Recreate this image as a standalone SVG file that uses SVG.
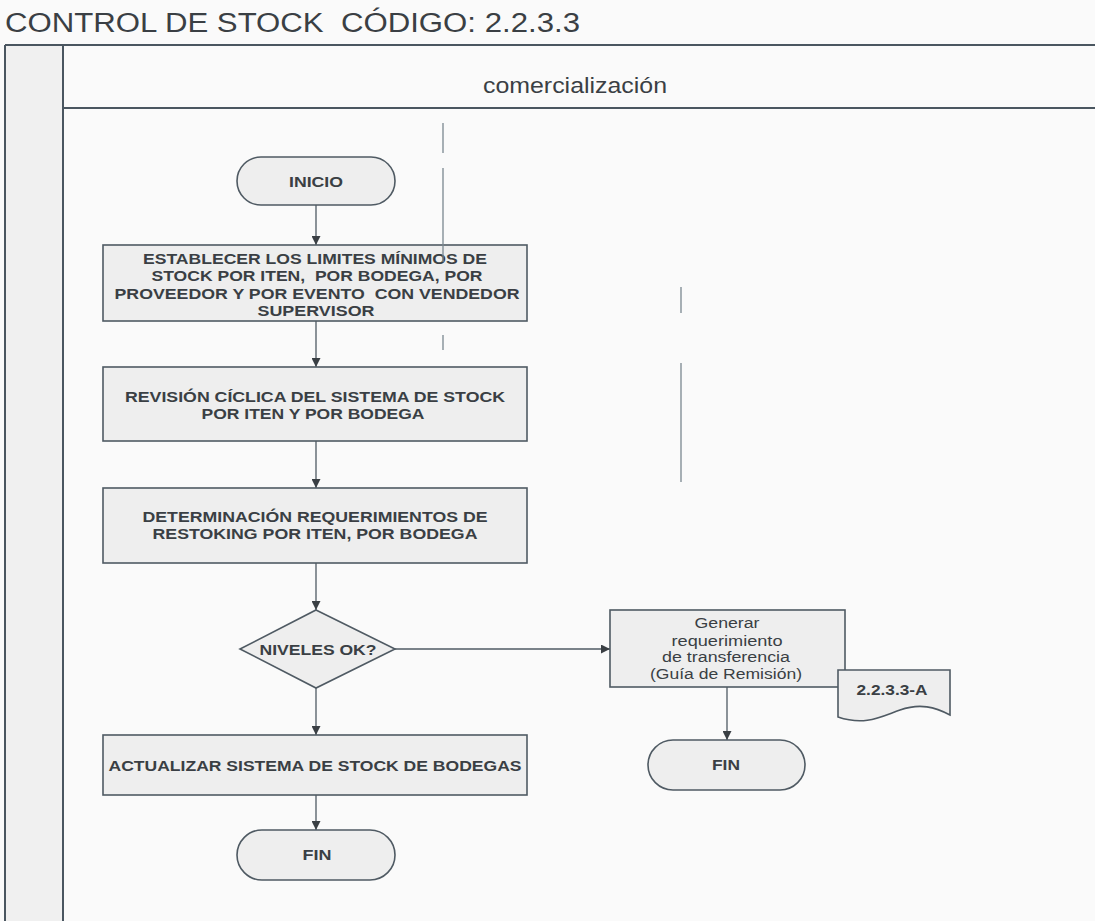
<svg xmlns="http://www.w3.org/2000/svg" width="1095" height="921" viewBox="0 0 1095 921">
<defs>
<style>
.frame{stroke:#4a5660;stroke-width:2;fill:none}
.node{fill:#eeeeee;stroke:#4f5a63;stroke-width:1.6}
.t{font-family:"Liberation Sans",Arial,sans-serif;fill:#3a3f44;text-anchor:middle}
.b{font-weight:bold;font-size:15px}
.r{font-size:14px}
.conn{stroke:#4f5a63;stroke-width:1.3;fill:none;marker-end:url(#ah)}
.faint{stroke:#7a8790;stroke-width:1.3;fill:none}
</style>
<marker id="ah" viewBox="0 0 10 10" refX="10" refY="5" markerWidth="9" markerHeight="9" markerUnits="userSpaceOnUse" orient="auto">
<path d="M0,0 L10,5 L0,10 z" fill="#3a3f44"/>
</marker>
</defs>
<rect width="1095" height="921" fill="#fafafa"/>
<rect x="5" y="45" width="58" height="876" fill="#f0f0f0"/>
<g id="frame">
<text x="5" y="32" font-family="Liberation Sans,Arial,sans-serif" font-size="27" fill="#3a3f44" textLength="575" lengthAdjust="spacingAndGlyphs" xml:space="preserve">CONTROL DE STOCK  CÓDIGO: 2.2.3.3</text>
<line class="frame" x1="5" y1="45" x2="1095" y2="45"/>
<line class="frame" x1="63" y1="108" x2="1095" y2="108"/>
<line class="frame" x1="5" y1="45" x2="5" y2="921"/>
<line class="frame" x1="63" y1="45" x2="63" y2="921"/>
<text x="575" y="93" font-family="Liberation Sans,Arial,sans-serif" font-size="22" fill="#3a3f44" text-anchor="middle" textLength="184" lengthAdjust="spacingAndGlyphs">comercialización</text>
<line class="faint" x1="443" y1="123" x2="443" y2="153"/>
<line class="faint" x1="681" y1="287" x2="681" y2="313"/>
<line class="faint" x1="681" y1="363" x2="681" y2="482"/>
<line class="faint" x1="443" y1="335" x2="443" y2="350"/>
</g>
<g id="connectors">
<line class="conn" x1="316" y1="205" x2="316" y2="245"/>
<line class="conn" x1="316" y1="321" x2="316" y2="367"/>
<line class="conn" x1="316" y1="441" x2="316" y2="488"/>
<line class="conn" x1="316" y1="563" x2="316" y2="610"/>
<line class="conn" x1="316" y1="688" x2="316" y2="735"/>
<line class="conn" x1="316" y1="795" x2="316" y2="830"/>
<line class="conn" x1="395" y1="649" x2="610" y2="649"/>
<line class="conn" x1="727" y1="687" x2="727" y2="740"/>
</g>
<g id="inicio">
<rect class="node" x="237" y="157" width="158" height="48" rx="24"/>
<text class="t b" x="316" y="187" textLength="54" lengthAdjust="spacingAndGlyphs">INICIO</text>
</g>
<g id="establecer">
<rect class="node" x="103" y="245" width="424" height="76"/>
<text class="t b" x="315" y="264" textLength="344" lengthAdjust="spacingAndGlyphs">ESTABLECER LOS LIMITES MÍNIMOS DE</text>
<text class="t b" x="317" y="281" textLength="331" lengthAdjust="spacingAndGlyphs" xml:space="preserve">STOCK POR ITEN,  POR BODEGA, POR</text>
<text class="t b" x="317" y="299" textLength="405" lengthAdjust="spacingAndGlyphs" xml:space="preserve">PROVEEDOR Y POR EVENTO  CON VENDEDOR</text>
<text class="t b" x="316" y="316" textLength="117" lengthAdjust="spacingAndGlyphs">SUPERVISOR</text>
</g>
<line class="faint" x1="443" y1="168" x2="443" y2="262"/>
<g id="revision">
<rect class="node" x="103" y="367" width="424" height="74"/>
<text class="t b" x="315" y="402" textLength="380" lengthAdjust="spacingAndGlyphs">REVISIÓN CÍCLICA DEL SISTEMA DE STOCK</text>
<text class="t b" x="313" y="419" textLength="223" lengthAdjust="spacingAndGlyphs">POR ITEN Y POR BODEGA</text>
</g>
<g id="determinacion">
<rect class="node" x="103" y="488" width="424" height="75"/>
<text class="t b" x="315" y="522" textLength="345" lengthAdjust="spacingAndGlyphs">DETERMINACIÓN REQUERIMIENTOS DE</text>
<text class="t b" x="315" y="539" textLength="325" lengthAdjust="spacingAndGlyphs">RESTOKING POR ITEN, POR BODEGA</text>
</g>
<g id="niveles">
<polygon class="node" points="316,610 395,649 316,688 240,649"/>
<text class="t b" x="318" y="655" textLength="117" lengthAdjust="spacingAndGlyphs">NIVELES OK?</text>
</g>
<g id="actualizar">
<rect class="node" x="103" y="735" width="424" height="60"/>
<text class="t b" x="315" y="771" textLength="413" lengthAdjust="spacingAndGlyphs">ACTUALIZAR SISTEMA DE STOCK DE BODEGAS</text>
</g>
<g id="fin1">
<rect class="node" x="237" y="830" width="158" height="50" rx="25"/>
<text class="t b" x="317" y="860" textLength="29" lengthAdjust="spacingAndGlyphs">FIN</text>
</g>
<g id="generar">
<rect class="node" x="610" y="610" width="235" height="77"/>
<text class="t r" x="727" y="628" textLength="65" lengthAdjust="spacingAndGlyphs">Generar</text>
<text class="t r" x="727" y="646" textLength="111" lengthAdjust="spacingAndGlyphs">requerimiento</text>
<text class="t r" x="726" y="662" textLength="128" lengthAdjust="spacingAndGlyphs">de transferencia</text>
<text class="t r" x="726" y="679" textLength="152" lengthAdjust="spacingAndGlyphs">(Guía de Remisión)</text>
</g>
<g id="doc">
<path class="node" d="M838,670 L950,670 L950,715 C935,707 920,703 900,710 C880,717 865,726 838,717 Z" fill="#fafafa"/>
<text class="t b" x="892" y="695" textLength="71" lengthAdjust="spacingAndGlyphs">2.2.3.3-A</text>
</g>
<g id="fin2">
<rect class="node" x="648" y="740" width="157" height="50" rx="25"/>
<text class="t b" x="726" y="770" textLength="28" lengthAdjust="spacingAndGlyphs">FIN</text>
</g>
</svg>
